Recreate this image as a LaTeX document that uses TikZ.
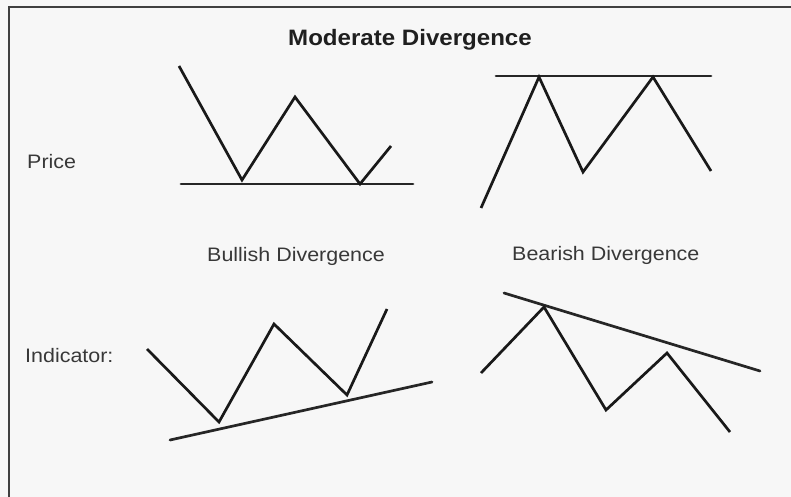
\documentclass[tikz,border=0pt]{standalone}
\usepackage{fontspec}
\setmainfont{Liberation Sans}
\begin{document}
\begin{tikzpicture}[x=1pt,y=-1pt,
  chart/.style={line width=2.7pt,line join=miter,line cap=butt,black!90},
  trend/.style={line width=2.7pt,line cap=round,black!85},
  frame/.style={line width=2pt,black!75},
  lbl/.style={inner sep=0pt,anchor=base west,text=black!78,font=\fontsize{19.5}{22}\selectfont},
  ttl/.style={inner sep=0pt,anchor=base,text=black!88,font=\fontsize{22.3}{26}\selectfont\bfseries}]
\useasboundingbox (0,0) rectangle (791,497);
\fill[black!3] (0,0) rectangle (791,497);
\draw[frame] (9,497) -- (9,7) -- (791,7);
% texts
\node[ttl] (title) at (410,46) {\scalebox{1.08}[1]{Moderate Divergence}};
\node[lbl] (price) at (27,168) {\scalebox{1.1}[1]{Price}};
\node[lbl] (ind) at (25,362) {\scalebox{1.1}[1]{Indicator:}};
\node[lbl] (bull) at (207,261) {\scalebox{1.1}[1]{Bullish Divergence}};
\node[lbl] (bear) at (512,260) {\scalebox{1.1}[1]{Bearish Divergence}};
% price, bullish
\draw[trend] (181,184) -- (413,184);
\draw[chart] (179,66) -- (242,180) -- (295,97) -- (360,184) -- (391,146);
% price, bearish
\draw[trend] (496,76) -- (711,76);
\draw[chart] (481,208) -- (539,77) -- (583,172) -- (653,77) -- (711,171);
% indicator, bullish
\draw[trend] (170,440) -- (432,382);
\draw[chart] (147,349) -- (219,422) -- (274,324) -- (347,395) -- (387,309);
% indicator, bearish
\draw[trend] (504,293) -- (760,371);
\draw[chart] (481,373) -- (544,307) -- (606,410) -- (667,353) -- (730,432);
\end{tikzpicture}
\end{document}
